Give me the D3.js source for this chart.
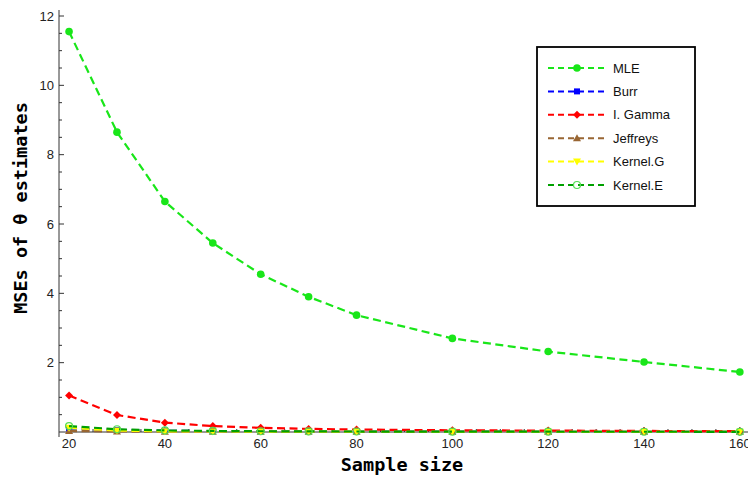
<!DOCTYPE html>
<html>
<head>
<meta charset="utf-8">
<script src="https://cdn.jsdelivr.net/npm/d3@7"></script>
<style>
  body { margin: 0; background: #fff; }
  svg { display: block; }
</style>
</head>
<body>
<div id="chart"></div>
<script>
// data
const sampleSizes = [20, 30, 40, 50, 60, 70, 80, 100, 120, 140, 160];
const mle      = [11.55, 8.65, 6.65, 5.45, 4.55, 3.9, 3.37, 2.7, 2.32, 2.02, 1.73];
const burr     = [0.10, 0.06, 0.035, 0.025, 0.02, 0.015, 0.012, 0.009, 0.007, 0.006, 0.005];
const iGamma   = [1.05, 0.49, 0.27, 0.17, 0.12, 0.09, 0.07, 0.05, 0.04, 0.03, 0.025];
const jeffreys = [0.03, 0.015, 0.01, 0.008, 0.006, 0.005, 0.004, 0.003, 0.003, 0.002, 0.002];
const kernelG  = [0.12, 0.04, 0.02, 0.015, 0.012, 0.01, 0.008, 0.006, 0.005, 0.004, 0.004];
const kernelE  = [0.17, 0.08, 0.045, 0.03, 0.022, 0.017, 0.014, 0.01, 0.008, 0.007, 0.006];
const seriesNames = ["MLE", "Burr", "I. Gamma", "Jeffreys", "Kernel.G", "Kernel.E"];
const yTicks = [2, 4, 6, 8, 10, 12];
const xTicks = [20, 40, 60, 80, 100, 120, 140, 160];

const width = 748, height = 477;

const svg = d3.select("#chart").append("svg")
    .attr("width", width)
    .attr("height", height);

const x = d3.scaleLinear().domain([17.9, 161.7]).range([59, 748]);
const y = d3.scaleLinear().domain([0, 12]).range([432, 16]);

const series = [
  {name: seriesNames[0], values: mle,      color: "#19e619", marker: "circle"},
  {name: seriesNames[1], values: burr,     color: "#0000ff", marker: "square"},
  {name: seriesNames[2], values: iGamma,   color: "#ff0000", marker: "diamond"},
  {name: seriesNames[3], values: jeffreys, color: "#996633", marker: "triangle"},
  {name: seriesNames[4], values: kernelG,  color: "#ffff00", marker: "triangleDown"},
  {name: seriesNames[5], values: kernelE,  color: "#00a000", marker: "openCircle"}
];

function drawMarker(g, type, color) {
  if (type === "circle") {
    g.append("circle").attr("r", 3.8).attr("fill", color);
  } else if (type === "square") {
    g.append("rect").attr("x", -3).attr("y", -3).attr("width", 6).attr("height", 6).attr("fill", color);
  } else if (type === "diamond") {
    g.append("path").attr("d", "M0,-4L4,0L0,4L-4,0Z").attr("fill", color);
  } else if (type === "triangle") {
    g.append("path").attr("d", "M0,-4L4,3L-4,3Z").attr("fill", color);
  } else if (type === "triangleDown") {
    g.append("path").attr("d", "M0,4L4,-3L-4,-3Z").attr("fill", color);
  } else if (type === "openCircle") {
    g.append("circle").attr("r", 3.5).attr("fill", "none").attr("stroke", "#55dd55").attr("stroke-width", 1.2);
  }
}

// axes (Mathematica style, ticks inward)
const axisG = svg.append("g").attr("stroke", "#333").attr("stroke-width", 1);
axisG.append("line").attr("x1", 59).attr("x2", 748).attr("y1", 432).attr("y2", 432);
axisG.append("line").attr("x1", 59).attr("x2", 59).attr("y1", 10).attr("y2", 437);

// y ticks
d3.range(0.5, 12.01, 0.5).forEach(v => {
  const major = Math.abs(v % 2) < 1e-9;
  axisG.append("line")
    .attr("x1", 59).attr("x2", 59 + (major ? 5 : 3))
    .attr("y1", y(v)).attr("y2", y(v));
});
svg.append("g").selectAll("text").data(yTicks).join("text")
  .attr("x", 54).attr("y", d => y(d) + 4.5)
  .attr("text-anchor", "end")
  .attr("font-family", "Liberation Sans, Arial, sans-serif")
  .attr("font-size", 13).attr("fill", "#222")
  .text(d => d);

// x ticks
d3.range(20, 161, 5).forEach(v => {
  const major = v % 20 === 0;
  axisG.append("line")
    .attr("x1", x(v)).attr("x2", x(v))
    .attr("y1", 432).attr("y2", 432 - (major ? 5 : 3));
});
svg.append("g").selectAll("text").data(xTicks).join("text")
  .attr("x", d => x(d)).attr("y", 448)
  .attr("text-anchor", "middle")
  .attr("font-family", "Liberation Sans, Arial, sans-serif")
  .attr("font-size", 13).attr("fill", "#222")
  .text(d => d);

// axis titles
svg.append("text")
  .attr("x", 402).attr("y", 471)
  .attr("text-anchor", "middle")
  .attr("font-family", "DejaVu Sans Mono, monospace")
  .attr("font-weight", "bold").attr("font-size", 18.5)
  .text("Sample size");
svg.append("text")
  .attr("transform", "translate(27,208) rotate(-90)")
  .attr("text-anchor", "middle")
  .attr("font-family", "DejaVu Sans Mono, monospace")
  .attr("font-weight", "bold").attr("font-size", 18.5)
  .text("MSEs of \u03B8 estimates");

// lines
const line = d3.line()
  .x((d, i) => x(sampleSizes[i]))
  .y(d => y(d));

series.forEach(s => {
  svg.append("path")
    .datum(s.values)
    .attr("d", line)
    .attr("fill", "none")
    .attr("stroke", s.color)
    .attr("stroke-width", 2.2)
    .attr("stroke-dasharray", "8,4.5");
  s.values.forEach((v, i) => {
    const g = svg.append("g").attr("transform", `translate(${x(sampleSizes[i])},${y(v)})`);
    drawMarker(g, s.marker, s.color);
  });
});

// legend
const legend = svg.append("g");
legend.append("rect")
  .attr("x", 537).attr("y", 47).attr("width", 158).attr("height", 159)
  .attr("fill", "#fff").attr("stroke", "#000").attr("stroke-width", 1.8);
series.forEach((s, i) => {
  const ly = 68 + i * 23.4;
  legend.append("line")
    .attr("x1", 548).attr("x2", 604).attr("y1", ly).attr("y2", ly)
    .attr("stroke", s.color).attr("stroke-width", 2)
    .attr("stroke-dasharray", "6,4");
  const g = legend.append("g").attr("transform", `translate(577,${ly})`);
  drawMarker(g, s.marker, s.color);
  legend.append("text")
    .attr("x", 613).attr("y", ly + 4.5)
    .attr("font-family", "Liberation Sans, Arial, sans-serif")
    .attr("font-size", 13).attr("fill", "#111")
    .text(s.name);
});
</script>
</body>
</html>
